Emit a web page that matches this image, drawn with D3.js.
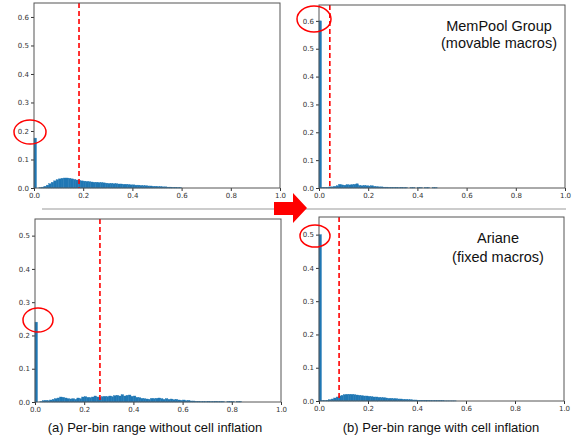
<!DOCTYPE html>
<html>
<head>
  <meta charset="utf-8">
  <script src="https://cdn.jsdelivr.net/npm/d3@7"></script>
  <style>
    body { margin: 0; background: #fff; }
    svg { display: block; }
    .tick text { font-family: "DejaVu Sans", sans-serif; font-size: 7px; fill: #333; }
    .tick line { stroke: #333; }
    .domain { display: none; }
  </style>
</head>
<body>
<script>
  // histogram bin heights (bins of width 0.01 starting at 0.0)
  const memNoInfl = [0.175, 0.0, 0.001, 0.003, 0.006, 0.010, 0.015, 0.020, 0.025, 0.029,
    0.032, 0.034, 0.035, 0.035, 0.034, 0.032, 0.030, 0.028, 0.026, 0.025,
    0.024, 0.023, 0.022, 0.021, 0.020, 0.020, 0.019, 0.019, 0.018, 0.017,
    0.016, 0.016, 0.015, 0.015, 0.014, 0.014, 0.013, 0.013, 0.012, 0.011,
    0.011, 0.010, 0.010, 0.009, 0.008, 0.008, 0.007, 0.007, 0.006, 0.006,
    0.005, 0.005, 0.004, 0.004, 0.003, 0.003, 0.002, 0.002, 0.001, 0.001];
  const memInfl = [0.600, 0.002, 0.002, 0.002, 0.004, 0.004, 0.006, 0.008, 0.013, 0.011,
    0.010, 0.012, 0.011, 0.012, 0.013, 0.015, 0.009, 0.008, 0.009, 0.008,
    0.007, 0.008, 0.006, 0.005, 0.004, 0.004, 0.003, 0.003, 0.002, 0.002,
    0.002, 0.002, 0.001, 0.002, 0.001, 0.001, 0.0, 0.001, 0.001, 0.0,
    0.001, 0.001, 0.0, 0.001, 0.001, 0.0, 0.001, 0.001];
  const arNoInfl = [0.240, 0.0, 0.001, 0.004, 0.005, 0.004, 0.006, 0.008, 0.010, 0.012,
    0.015, 0.014, 0.012, 0.010, 0.009, 0.010, 0.008, 0.012, 0.010, 0.015,
    0.016, 0.014, 0.013, 0.015, 0.018, 0.015, 0.014, 0.016, 0.017, 0.016,
    0.018, 0.016, 0.019, 0.020, 0.018, 0.022, 0.018, 0.020, 0.021, 0.017,
    0.018, 0.014, 0.013, 0.011, 0.010, 0.009, 0.008, 0.011, 0.010, 0.011,
    0.012, 0.010, 0.008, 0.010, 0.008, 0.009, 0.007, 0.008, 0.006, 0.005,
    0.006, 0.004, 0.005, 0.003, 0.003, 0.002, 0.002, 0.001, 0.001, 0.001,
    0.002, 0.001, 0.001, 0.002, 0.001, 0.001, 0.001, 0.0, 0.001, 0.001,
    0.001, 0.0, 0.001, 0.001];
  const arInfl = [0.500, 0.001, 0.001, 0.002, 0.004, 0.006, 0.009, 0.012, 0.015, 0.017,
    0.019, 0.020, 0.020, 0.020, 0.019, 0.018, 0.017, 0.016, 0.015, 0.015,
    0.014, 0.013, 0.012, 0.012, 0.011, 0.010, 0.010, 0.009, 0.008, 0.008,
    0.007, 0.007, 0.006, 0.006, 0.005, 0.005, 0.004, 0.004, 0.003, 0.003,
    0.002, 0.002, 0.002, 0.002, 0.002, 0.001, 0.001, 0.001, 0.001, 0.001,
    0.001, 0.0005, 0.0005, 0.0005, 0.0005, 0.0005];

  // mean value (red dashed line) per panel
  const means = [0.183, 0.044, 0.264, 0.082];
  const yMax = [0.649, 0.657, 0.55, 0.553];
  const yTicks = [[0, 0.1, 0.2, 0.3, 0.4, 0.5, 0.6], [0, 0.1, 0.2, 0.3, 0.4, 0.5, 0.6],
    [0, 0.1, 0.2, 0.3, 0.4, 0.5], [0, 0.1, 0.2, 0.3, 0.4, 0.5]];
  const xTicks = [0, 0.2, 0.4, 0.6, 0.8, 1.0];
  const labels = [[], ["MemPool Group", "(movable macros)"], [], ["Ariane", "(fixed macros)"]];
  const captions = ["(a) Per-bin range without cell inflation", "(b) Per-bin range with cell inflation"];
  const binWidth = 0.01;

  const series = [memNoInfl, memInfl, arNoInfl, arInfl];

  // panel boxes [left, top, right, bottom]
  const boxes = [[34, 3, 280, 188], [319, 5, 565, 188], [35, 219, 281, 402], [319, 217, 564, 401]];
  // red ellipses around the zero bin [cx, cy, rx, ry]
  const rings = [[30, 132, 16, 12], [314, 19, 17, 13], [38, 320, 15, 12], [315, 236, 15, 11]];
  const labelPos = [null, [499, 31, 48], null, [498, 243, 262]];

  const svg = d3.select("body").append("svg")
    .attr("width", 580)
    .attr("height", 440);

  // separator line between the rows
  svg.append("line")
    .attr("x1", 42).attr("x2", 566).attr("y1", 209).attr("y2", 209)
    .attr("stroke", "#999").attr("stroke-width", 1);

  series.forEach(function (data, i) {
    const b = boxes[i];
    const x = d3.scaleLinear().domain([0, 1]).range([b[0], b[2]]);
    const y = d3.scaleLinear().domain([0, yMax[i]]).range([b[3], b[1]]);
    const g = svg.append("g");

    g.selectAll("rect.bar")
      .data(data)
      .enter()
      .append("rect")
      .attr("class", "bar")
      .attr("x", function (d, k) { return x(k * binWidth); })
      .attr("width", function (d, k) { return x((k + 1) * binWidth) - x(k * binWidth); })
      .attr("y", function (d) { return y(d); })
      .attr("height", function (d) { return y(0) - y(d); })
      .attr("fill", "#1f77b4")
      .attr("stroke", "#1f77b4")
      .attr("stroke-width", 0.4);

    g.append("line")
      .attr("x1", x(means[i])).attr("x2", x(means[i]))
      .attr("y1", y(yMax[i])).attr("y2", y(0))
      .attr("stroke", "red").attr("stroke-width", 1.6)
      .attr("stroke-dasharray", "5,3");

    g.append("g")
      .attr("transform", "translate(0," + b[3] + ")")
      .call(d3.axisBottom(x).tickValues(xTicks).tickFormat(d3.format(".1f")).tickSize(3).tickPadding(2));
    g.append("g")
      .attr("transform", "translate(" + b[0] + ",0)")
      .call(d3.axisLeft(y).tickValues(yTicks[i]).tickFormat(d3.format(".1f")).tickSize(3).tickPadding(2));

    g.append("rect")
      .attr("x", b[0]).attr("y", b[1])
      .attr("width", b[2] - b[0]).attr("height", b[3] - b[1])
      .attr("fill", "none").attr("stroke", "#555").attr("stroke-width", 1);

    const r = rings[i];
    g.append("ellipse")
      .attr("cx", r[0]).attr("cy", r[1]).attr("rx", r[2]).attr("ry", r[3])
      .attr("fill", "none").attr("stroke", "red").attr("stroke-width", 1.5);

    if (labelPos[i]) {
      labels[i].forEach(function (t, k) {
        g.append("text")
          .attr("x", labelPos[i][0])
          .attr("y", labelPos[i][1 + k])
          .attr("text-anchor", "middle")
          .attr("font-family", "Liberation Sans, Arial, sans-serif")
          .attr("font-size", 14.5)
          .attr("fill", "#111")
          .text(t);
      });
    }
  });

  // big red arrow between the rows
  svg.append("path")
    .attr("d", "M274,202 L293,202 L293,193 L307,208 L293,223 L293,215 L274,215 Z")
    .attr("fill", "red");

  captions.forEach(function (c, i) {
    svg.append("text")
      .attr("x", i === 0 ? 155 : 441)
      .attr("y", 432)
      .attr("text-anchor", "middle")
      .attr("font-family", "Liberation Sans, Arial, sans-serif")
      .attr("font-size", 13)
      .attr("fill", "#111")
      .text(c);
  });
</script>
</body>
</html>
